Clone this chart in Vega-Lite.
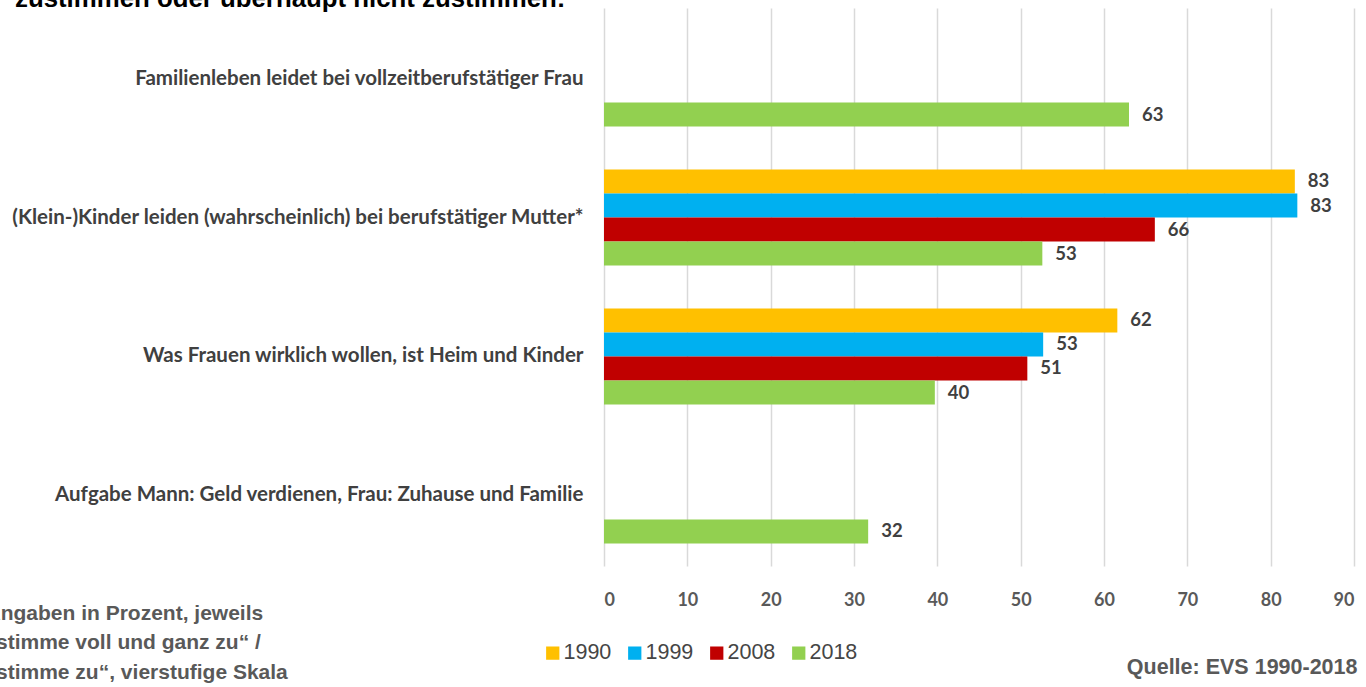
{
  "$schema": "https://vega.github.io/schema/vega-lite/v6.json",
  "width": 750,
  "height": 558,
  "autosize": {"type": "none"},
  "padding": {"left": 604, "top": 8, "right": 12, "bottom": 121},
  "background": "white",
  "title": {
    "text": "zustimmen oder überhaupt nicht zustimmen:",
    "anchor": "start",
    "frame": "group",
    "orient": "top",
    "offset": -25,
    "baseline": "alphabetic",
    "dx": -589,
    "font": "Liberation Sans",
    "fontSize": 25.8,
    "fontWeight": "bold",
    "color": "#000000"
  },
  "data": {
    "values": [
      {"item": "Familienleben leidet bei vollzeitberufstätiger Frau", "year": "2018", "value": 63.0},
      {"item": "(Klein-)Kinder leiden (wahrscheinlich) bei berufstätiger Mutter*", "year": "1990", "value": 82.9},
      {"item": "(Klein-)Kinder leiden (wahrscheinlich) bei berufstätiger Mutter*", "year": "1999", "value": 83.2},
      {"item": "(Klein-)Kinder leiden (wahrscheinlich) bei berufstätiger Mutter*", "year": "2008", "value": 66.1},
      {"item": "(Klein-)Kinder leiden (wahrscheinlich) bei berufstätiger Mutter*", "year": "2018", "value": 52.6},
      {"item": "Was Frauen wirklich wollen, ist Heim und Kinder", "year": "1990", "value": 61.6},
      {"item": "Was Frauen wirklich wollen, ist Heim und Kinder", "year": "1999", "value": 52.7},
      {"item": "Was Frauen wirklich wollen, ist Heim und Kinder", "year": "2008", "value": 50.8},
      {"item": "Was Frauen wirklich wollen, ist Heim und Kinder", "year": "2018", "value": 39.7},
      {"item": "Aufgabe Mann: Geld verdienen, Frau: Zuhause und Familie", "year": "2018", "value": 31.7}
    ]
  },
  "encoding": {
    "y": {
      "field": "item",
      "type": "nominal",
      "sort": [
        "Familienleben leidet bei vollzeitberufstätiger Frau",
        "(Klein-)Kinder leiden (wahrscheinlich) bei berufstätiger Mutter*",
        "Was Frauen wirklich wollen, ist Heim und Kinder",
        "Aufgabe Mann: Geld verdienen, Frau: Zuhause und Familie"
      ],
      "scale": {"paddingInner": 0.309, "paddingOuter": 0.162},
      "axis": {
        "title": "Quelle: EVS 1990-2018",
        "titleAngle": 0,
        "titleAlign": "right",
        "titleBaseline": "alphabetic",
        "titleX": 753,
        "titleY": 665,
        "titleFont": "Liberation Sans",
        "titleFontSize": 21.5,
        "titleFontWeight": "bold",
        "titleColor": "#595959",
        "domain": false,
        "ticks": false,
        "grid": false,
        "labelPadding": 21,
        "labelFont": "Lato",
        "labelFontSize": 20.5,
        "labelFontWeight": "bold",
        "labelColor": "#404040",
        "labelLimit": 700
      }
    },
    "yOffset": {
      "field": "year",
      "type": "nominal",
      "sort": ["1990", "1999", "2008", "2018"],
      "scale": {"paddingInner": 0, "paddingOuter": 0}
    },
    "x": {
      "field": "value",
      "type": "quantitative",
      "scale": {"domain": [0, 90], "nice": false},
      "axis": {
        "values": [0, 10, 20, 30, 40, 50, 60, 70, 80, 90],
        "title": ["Angaben in Prozent, jeweils", "„stimme voll und ganz zu“ /", "„stimme zu“, vierstufige Skala"],
        "titleAlign": "left",
        "titleAnchor": "start",
        "titleBaseline": "alphabetic",
        "titleX": -619,
        "titleY": 53,
        "titleLineHeight": 29.5,
        "titleFont": "Liberation Sans",
        "titleFontSize": 21,
        "titleFontWeight": "bold",
        "titleColor": "#595959",
        "grid": true,
        "gridColor": "#d9d9d9",
        "gridWidth": 1.5,
        "domain": false,
        "ticks": false,
        "labelPadding": 25,
        "labelFont": "Lato",
        "labelFontSize": 18,
        "labelFontWeight": "bold",
        "labelColor": "#595959"
      }
    }
  },
  "layer": [
    {
      "mark": {"type": "bar"},
      "encoding": {
        "color": {
          "field": "year",
          "type": "nominal",
          "sort": ["1990", "1999", "2008", "2018"],
          "scale": {"domain": ["1990", "1999", "2008", "2018"], "range": ["#FFC000", "#00B0F0", "#C00000", "#92D050"]},
          "legend": {
            "orient": "none",
            "direction": "horizontal",
            "legendX": -62,
            "legendY": 634,
            "title": null,
            "symbolType": "square",
            "symbolSize": 176,
            "symbolStrokeWidth": 0,
            "labelFont": "Liberation Sans",
            "labelFontSize": 21.5,
            "labelColor": "#454545",
            "labelOffset": 0,
            "columnPadding": 12
          }
        }
      }
    },
    {
      "mark": {"type": "text", "align": "left", "baseline": "middle", "dx": 13, "font": "Lato", "fontSize": 18.5, "fontWeight": "bold", "color": "#404040"},
      "encoding": {
        "text": {"field": "value", "type": "quantitative", "format": ".0f"}
      }
    }
  ],
  "config": {"view": {"stroke": null}}
}
